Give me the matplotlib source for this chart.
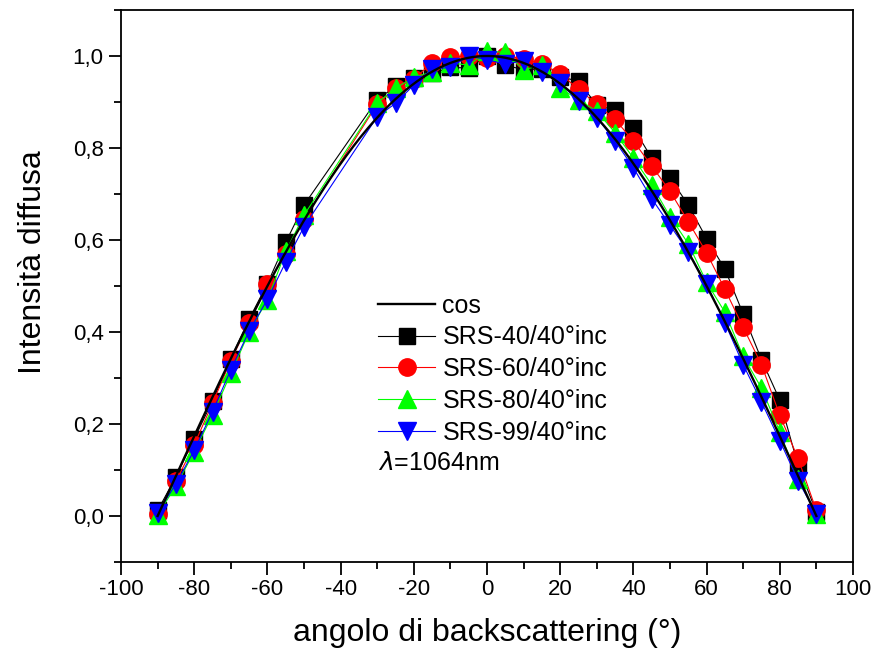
import numpy as np
import matplotlib
matplotlib.use("Agg")
import matplotlib.pyplot as plt
from matplotlib.ticker import MultipleLocator, FuncFormatter

plt.rcParams['font.family'] = ['Liberation Sans', 'DejaVu Sans']

# angles (deg) where the samples were measured
angle = [-90, -85, -80, -75, -70, -65, -60, -55, -50,
         -30, -25, -20, -15, -10, -5, 0, 5, 10, 15, 20, 25, 30,
         35, 40, 45, 50, 55, 60, 65, 70, 75, 80, 85, 90]

srs40 = [0.012, 0.085, 0.168, 0.250, 0.342, 0.428, 0.505, 0.595, 0.676,
         0.905, 0.934, 0.953, 0.962, 0.975, 0.974, 1.000, 0.980, 0.970, 0.972, 0.955, 0.945, 0.893,
         0.882, 0.844, 0.778, 0.735, 0.676, 0.603, 0.537, 0.439, 0.340, 0.252, 0.110, 0.008]
srs60 = [0.005, 0.075, 0.155, 0.245, 0.338, 0.420, 0.504, 0.570, 0.645,
         0.895, 0.930, 0.950, 0.985, 0.998, 1.000, 0.995, 1.000, 0.994, 0.983, 0.961, 0.928, 0.895,
         0.862, 0.815, 0.761, 0.706, 0.640, 0.572, 0.493, 0.410, 0.329, 0.219, 0.125, 0.012]
srs80 = [0.003, 0.065, 0.140, 0.220, 0.310, 0.400, 0.470, 0.575, 0.654,
         0.898, 0.930, 0.954, 0.965, 0.985, 0.980, 1.010, 1.008, 0.970, 0.980, 0.930, 0.905, 0.880,
         0.833, 0.778, 0.720, 0.651, 0.592, 0.508, 0.443, 0.347, 0.278, 0.183, 0.080, 0.005]
srs99 = [0.007, 0.070, 0.143, 0.227, 0.318, 0.402, 0.471, 0.552, 0.629,
         0.868, 0.897, 0.937, 0.972, 0.975, 1.000, 0.992, 0.982, 0.990, 0.965, 0.941, 0.902, 0.866,
         0.815, 0.757, 0.690, 0.632, 0.574, 0.504, 0.420, 0.329, 0.248, 0.164, 0.077, 0.004]

labels = ['SRS-40/40°inc', 'SRS-60/40°inc', 'SRS-80/40°inc', 'SRS-99/40°inc']

fig = plt.figure(figsize=(8.79, 6.56), dpi=100)
ax = fig.add_axes([0.1377, 0.1433, 0.8327, 0.8415])

# lambertian reference
th = np.linspace(-90, 90, 361)
ax.plot(th, np.cos(np.radians(th)), color='k', lw=1.7, label='cos', zorder=10)

ax.plot(angle, srs40, color='k', lw=0.8, marker='s', ms=11, mec='k', mfc='k', label=labels[0], zorder=3)
ax.plot(angle, srs60, color='#ff0000', lw=0.8, marker='o', ms=12.5, mec='#ff0000', mfc='#ff0000', label=labels[1], zorder=4)
ax.plot(angle, srs80, color='#00ff00', lw=0.8, marker='^', ms=12.5, mec='#00ff00', mfc='#00ff00', label=labels[2], zorder=5)
ax.plot(angle, srs99, color='#0000ff', lw=0.8, marker='v', ms=12.5, mec='#0000ff', mfc='#0000ff', label=labels[3], zorder=6)

ax.set_xlim(-100, 100)
ax.set_ylim(-0.1, 1.1)
ax.xaxis.set_major_locator(MultipleLocator(20))
ax.xaxis.set_minor_locator(MultipleLocator(10))
ax.yaxis.set_major_locator(MultipleLocator(0.2))
ax.yaxis.set_minor_locator(MultipleLocator(0.1))
ax.xaxis.set_major_formatter(FuncFormatter(lambda v, p: '%d' % v))
ax.yaxis.set_major_formatter(FuncFormatter(lambda v, p: ('%.1f' % v).replace('.', ',')))

ax.tick_params(which='both', direction='out', top=False, right=False, labelsize=16, width=1.3)
ax.tick_params(which='major', length=9)
ax.tick_params(which='minor', length=5)
for s in ax.spines.values():
    s.set_linewidth(1.3)

ax.set_xlabel('angolo di backscattering (°)', fontsize=23, labelpad=13)
ax.set_ylabel('Intensità diffusa', fontsize=23, labelpad=18)
ax.yaxis.label.set_y(0.543)

leg = ax.legend(loc='upper left', bbox_to_anchor=(0.351, 0.486), frameon=False, fontsize=18,
                handlelength=2.3, handletextpad=0.28, labelspacing=0.31, borderpad=0, borderaxespad=0)
ax.text(0.351, 0.179, r'$\lambda$=1064nm', transform=ax.transAxes, fontsize=18, va='center', ha='left')

fig.savefig('out.png', dpi=100)
